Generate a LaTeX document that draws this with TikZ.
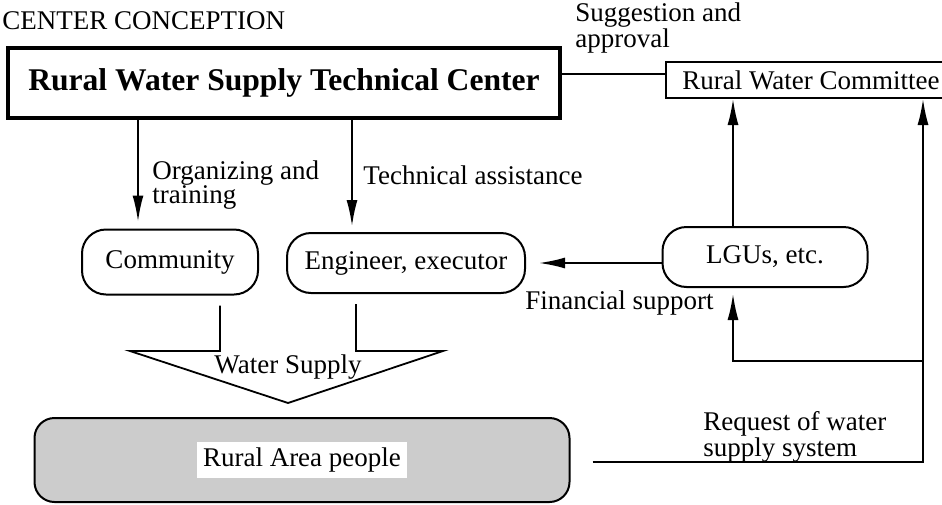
\documentclass[tikz,border=0pt]{standalone}
\usepackage{fontspec}
\setmainfont{Liberation Serif}
\usetikzlibrary{arrows.meta,positioning}

\begin{document}
\begin{tikzpicture}[x=0.5pt, y=-0.5pt,
    every node/.style={font=\fontsize{13.5}{12}\selectfont},
    box/.style={draw, line width=1pt, rounded corners=12pt, inner sep=0pt},
    link/.style={line width=0.9pt, -{Latex[length=13pt,width=5.5pt]}},
    plain/.style={line width=0.9pt},
    lbl/.style={align=left, anchor=west, inner sep=0pt}]
    % Frame
    \clip (0,0) rectangle (942,504);
    \useasboundingbox (0,0) rectangle (942,504);

    % Title
    \node[anchor=base west, inner sep=0pt] (title) at (2,29) {CENTER CONCEPTION};

    % Top boxes
    \node[draw, line width=2pt, minimum width=276pt, minimum height=35pt,
          font=\fontsize{15.8}{18}\selectfont\bfseries] (center) at (284,83) {Rural Water Supply Technical Center};
    \node[draw, line width=1pt, anchor=west, minimum width=145pt, minimum height=18pt] (committee) at (665,80) {Rural Water Committee};

    % Middle boxes
    \node[box, minimum width=88pt, minimum height=32.5pt] (community) at (170,262) {Community};
    \node[box, minimum width=119pt, minimum height=30pt] (engineer) at (406,263) {Engineer, executor};
    \node[box, minimum width=102.5pt, minimum height=30pt] (lgu) at (765,257) {LGUs, etc.};

    % People
    \node[box, fill=gray!40, minimum width=267.5pt, minimum height=42pt, rounded corners=10pt] (rural) at (302,460) {\colorbox{white}{Rural Area people}};

    % Center to community and engineer
    \coordinate (ca) at ([xshift=-16pt]community.north);
    \coordinate (ea) at ([xshift=-27pt]engineer.north);
    \draw[link, shorten >=3.5pt] (center.south -| ca) -- (ca);
    \draw[link, shorten >=3pt] (center.south -| ea) -- (ea);
    \node[lbl] (orglbl) at (152,185) {Organizing and\\training};
    \node[lbl] (techlbl) at (363,175) {Technical assistance};

    % Center and committee
    \coordinate (sa) at ([yshift=3pt]committee.west);
    \draw[plain] (sa) -- (sa -| center.east);
    \node[lbl] (suglbl) at (575,28) {Suggestion and\\approval};

    % LGUs links
    \coordinate (lt) at ([xshift=-16pt]lgu.north);
    \coordinate (lb) at ([xshift=-16pt]lgu.south);
    \draw[link] (lt) -- (lt |- committee.south);
    \draw[link, shorten >=6.5pt] (lgu.west |- engineer.east) -- (engineer.east);
    \node[lbl] (finlbl) at (525,303) {Financial support};

    % Request from people
    \coordinate (rq) at ([xshift=11pt, yshift=-1pt]rural.east);
    \coordinate (rc) at (923,462);
    \coordinate (bj) at (923,361);
    \draw[link] (rq) -- (rc) -- (rc |- committee.south);
    \draw[link, shorten >=3pt] (bj) -- (bj -| lb) -- (lb);
    \node[lbl] (reqlbl) at (703,437) {Request of water\\supply system};

    % Water supply arrow
    \coordinate (wl) at ([xshift=25pt, yshift=-5pt]community.south);
    \coordinate (wr) at ([xshift=-25pt, yshift=-5pt]engineer.south);
    \draw[plain] (wl) -- (220,351) -- (130,351) -- (288,403) -- (443,351) -- (356,351) -- (wr);
    \node (wslbl) at (288,367) {Water Supply};
\end{tikzpicture}
\end{document}
